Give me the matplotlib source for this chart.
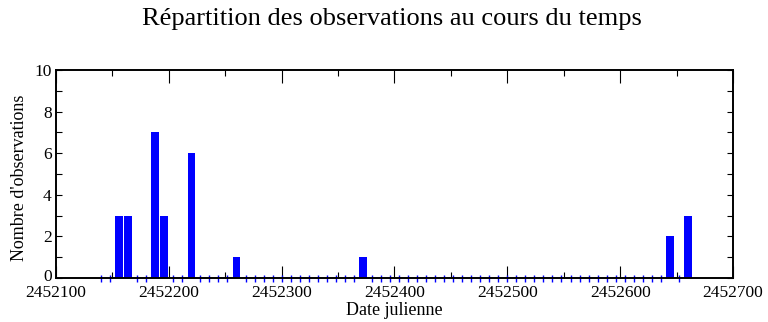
import numpy as np
import matplotlib
matplotlib.use("Agg")
import matplotlib.pyplot as plt
from matplotlib.ticker import MultipleLocator, FuncFormatter

# Histogram of observation dates, 8-day bins (bin centres in Julian days)
bin_start = 2452140
bin_stop = 2452660
bin_step = 8
bin_centers = np.arange(bin_start, bin_stop + 1, bin_step)

# non-empty bins
obs_dates = [2452156, 2452164, 2452188, 2452196, 2452220, 2452260, 2452372, 2452644, 2452660]
obs_counts = [3, 3, 7, 3, 6, 1, 1, 2, 3]

counts = np.zeros(len(bin_centers))
for d, c in zip(obs_dates, obs_counts):
    counts[(d - bin_start) // bin_step] = c

plt.rcParams["font.family"] = ["Liberation Serif", "DejaVu Serif"]

fig = plt.figure(figsize=(7.68, 3.22), dpi=100)
ax = fig.add_axes([0.0729, 0.1366, 0.8815, 0.646])

filled = counts > 0
ax.bar(bin_centers[filled], counts[filled], width=6.8, color="#0000ff", zorder=2)
# empty bins show as short marks on the baseline
ax.vlines(bin_centers[~filled], -0.18, 0.15, color="#0000ff", linewidth=1.0,
          clip_on=False, zorder=3)

ax.set_xlim(2452100, 2452700)
ax.set_ylim(0, 10)

ax.xaxis.set_major_locator(MultipleLocator(100))
ax.xaxis.set_minor_locator(MultipleLocator(50))
ax.xaxis.set_major_formatter(FuncFormatter(lambda v, p: f"{int(round(v))}"))
ax.yaxis.set_major_locator(MultipleLocator(2))
ax.yaxis.set_minor_locator(MultipleLocator(1))
# the "0" is placed by hand just above the first date label
ax.yaxis.set_major_formatter(FuncFormatter(lambda v, p: "" if v == 0 else f"{int(v)}"))

ax.tick_params(axis="x", which="major", direction="in", length=9.0, width=0.8,
               top=True, labelsize=12.5, pad=5)
ax.tick_params(axis="x", which="minor", direction="in", length=4.5, width=0.8, top=True)
ax.tick_params(axis="y", which="both", direction="in", length=4.3, width=0.8,
               right=True, labelsize=12.5, pad=3)

ax.annotate("0", xy=(0, 0), xycoords=("axes fraction", "data"),
            xytext=(-3, 1), textcoords="offset points",
            ha="right", va="center", fontsize=12.5)

for s in ax.spines.values():
    s.set_linewidth(1.4)
    s.set_zorder(4)

fig.text(0.51, 0.94, "Répartition des observations au cours du temps",
         ha="center", va="center", fontsize=19)
fig.text(0.514, 0.037, "Date julienne", ha="center", va="center", fontsize=13)
fig.text(0.025, 0.447, "Nombre d'observations", ha="center", va="center",
         rotation=90, fontsize=13)

fig.savefig("out.png", dpi=100)
